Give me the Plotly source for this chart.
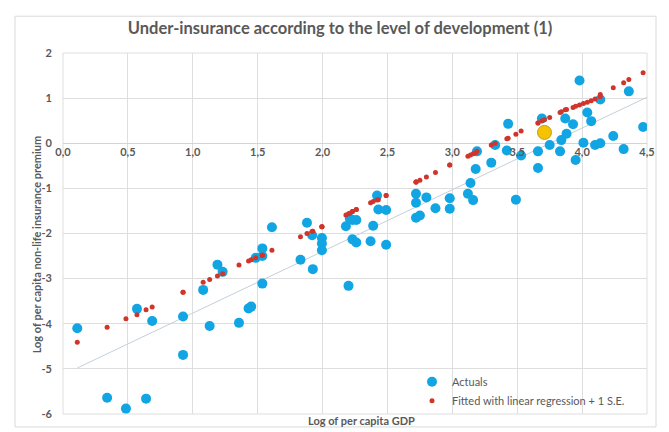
import plotly.graph_objects as go

# ---- data ----
gdp_log = [0.11, 0.34, 0.485, 0.57, 0.64, 0.687, 0.925, 0.925, 1.08, 1.13,
           1.19, 1.23, 1.356, 1.43, 1.45, 1.485, 1.536, 1.536, 1.536, 1.61,
           1.83, 1.88, 1.92, 1.925, 1.995, 1.995, 1.995, 2.18, 2.20, 2.21,
           2.23, 2.23, 2.26, 2.26, 2.37, 2.39, 2.42, 2.43, 2.49, 2.49,
           2.72, 2.72, 2.72, 2.75, 2.80, 2.87, 2.98, 2.98, 3.12, 3.14,
           3.16, 3.18, 3.19, 3.30, 3.33, 3.42, 3.43, 3.49, 3.53, 3.66,
           3.66, 3.69, 3.75, 3.83, 3.84, 3.87, 3.88, 3.93, 3.95, 3.98,
           4.01, 4.04, 4.07, 4.10, 4.14, 4.14, 4.24, 4.32, 4.36, 4.47]
actuals = [-4.10, -5.64, -5.88, -3.67, -5.66, -3.94, -3.84, -4.69, -3.25, -4.05,
           -2.69, -2.85, -3.98, -3.66, -3.62, -2.54, -2.33, -2.50, -3.11, -1.86,
           -2.58, -1.76, -2.04, -2.79, -2.10, -2.22, -2.37, -1.84, -3.16, -1.67,
           -1.70, -2.13, -1.70, -2.20, -2.17, -1.83, -1.16, -1.47, -1.48, -2.25,
           -1.12, -1.32, -1.65, -1.60, -1.20, -1.44, -1.22, -1.45, -1.12, -0.88,
           -1.26, -0.57, -0.18, -0.43, -0.04, -0.16, 0.43, -1.25, -0.27, -0.18,
           -0.55, 0.55, -0.04, -0.18, 0.07, 0.55, 0.21, 0.42, -0.37, 1.39,
           0.01, 0.68, 0.49, -0.04, 0.00, 0.97, 0.16, -0.13, 1.15, 0.36]
fitted = [-4.41, -4.08, -3.89, -3.80, -3.69, -3.63, -3.30, -3.30, -3.08, -3.02,
          -2.94, -2.89, -2.70, -2.61, -2.58, -2.54, -2.48, -2.48, -2.48, -2.37,
          -2.07, -2.00, -1.95, -1.95, -1.85, -1.85, -1.85, -1.59, -1.56, -1.55,
          -1.51, -1.51, -1.47, -1.47, -1.32, -1.29, -1.26, -1.25, -1.16, -1.16,
          -0.86, -0.86, -0.86, -0.82, -0.75, -0.65, -0.48, -0.48, -0.29, -0.26,
          -0.23, -0.21, -0.18, -0.04, 0.00, 0.10, 0.11, 0.20, 0.27, 0.45,
          0.45, 0.50, 0.57, 0.68, 0.70, 0.74, 0.75, 0.79, 0.82, 0.85,
          0.88, 0.91, 0.94, 0.98, 1.03, 1.08, 1.23, 1.34, 1.41, 1.56]
highlight_x = [3.71]
highlight_y = [0.24]
highlight_fit = [0.52]
trend_x = [0.11, 4.5]
trend_y = [-4.98, 1.02]
x_ticks = [0.0, 0.5, 1.0, 1.5, 2.0, 2.5, 3.0, 3.5, 4.0, 4.5]
x_tick_labels = ["0,0", "0,5", "1,0", "1,5", "2,0", "2,5", "3,0", "3,5", "4,0", "4,5"]
y_ticks = [-6, -5, -4, -3, -2, -1, 0, 1, 2]
y_tick_labels = ["-6", "-5", "-4", "-3", "-2", "-1", "0", "1", "2"]

TXT = "#595959"
GRID = "#dedede"
FONT = "Lato"

# page body has an 8px margin: figure is sized so the window shows it exactly
W, H = 661, 424
L, T, PW, PH = 55, 45, 584, 363

fig = go.Figure()
fig.add_trace(go.Scatter(x=trend_x, y=trend_y, mode="lines",
                         line=dict(color="#c3cfdb", width=1), showlegend=False,
                         hoverinfo="skip"))
fig.add_trace(go.Scatter(x=gdp_log, y=actuals, mode="markers", name="Actuals",
                         marker=dict(color="#12a5e3", size=10)))
fig.add_trace(go.Scatter(x=gdp_log + highlight_x, y=fitted + highlight_fit, mode="markers",
                         name="Fitted with linear regression + 1 S.E.",
                         marker=dict(color="#d0352c", size=5)))
fig.add_trace(go.Scatter(x=highlight_x, y=highlight_y, mode="markers", showlegend=False,
                         marker=dict(color="#f7c200", size=14,
                                     line=dict(color="#b8a020", width=1))))

fig.update_layout(
    width=W, height=H,
    margin=dict(l=L, r=W - L - PW, t=T, b=H - T - PH),
    paper_bgcolor="white", plot_bgcolor="white",
    font=dict(family=FONT, color=TXT, size=11),
    title=dict(text="<b>Under-insurance according to the level of development (1)</b>",
               x=(340 - 8) / W, xanchor="center", y=1 - 20 / H, yanchor="middle",
               font=dict(family=FONT, size=16.5, color=TXT)),
    xaxis=dict(range=[0, 4.5], tickvals=x_ticks, ticktext=x_tick_labels,
               anchor="free", position=0.75, showgrid=True, gridcolor=GRID,
               zeroline=False, showline=False, ticks="",
               tickfont=dict(family=FONT, size=11, color=TXT, weight="bold"),
               ticklabelstandoff=1),
    yaxis=dict(range=[-6, 2], tickvals=y_ticks, ticktext=y_tick_labels,
               showgrid=True, gridcolor=GRID,
               zeroline=True, zerolinecolor="#d4d4d4", zerolinewidth=1,
               showline=False, ticks="",
               tickfont=dict(family=FONT, size=11, color=TXT, weight="bold"),
               ticklabelstandoff=10),
    legend=dict(x=(412 - 63) / PW, y=(416 - 369) / PH, xanchor="left", yanchor="top",
                bgcolor="rgba(0,0,0,0)", font=dict(family=FONT, size=11, color=TXT),
                itemsizing="trace", tracegroupgap=2),
    showlegend=True,
)

fig.add_shape(type="rect", xref="x domain", yref="y domain", x0=0, x1=1, y0=0, y1=1,
              line=dict(color=GRID, width=1), layer="below")
fig.add_shape(type="rect", xref="paper", yref="paper",
              x0=-48 / PW, x1=1 + 9 / PW, y0=-13 / PH, y1=1 + 37 / PH,
              line=dict(color="#d9d9d9", width=1))

fig.add_annotation(text="<b>Log of per capita GDP</b>", xref="paper", yref="paper",
                   x=(361 - 63) / PW, y=-7 / PH, xanchor="center", yanchor="middle",
                   showarrow=False, font=dict(family=FONT, size=11, color=TXT))
fig.add_annotation(text="<b>Log of per capita non-life insurance premium</b>",
                   xref="paper", yref="paper",
                   x=-27 / PW, y=0.47, xanchor="center", yanchor="middle", textangle=-90,
                   showarrow=False, font=dict(family=FONT, size=11, color=TXT))

fig.write_html("out.html")
